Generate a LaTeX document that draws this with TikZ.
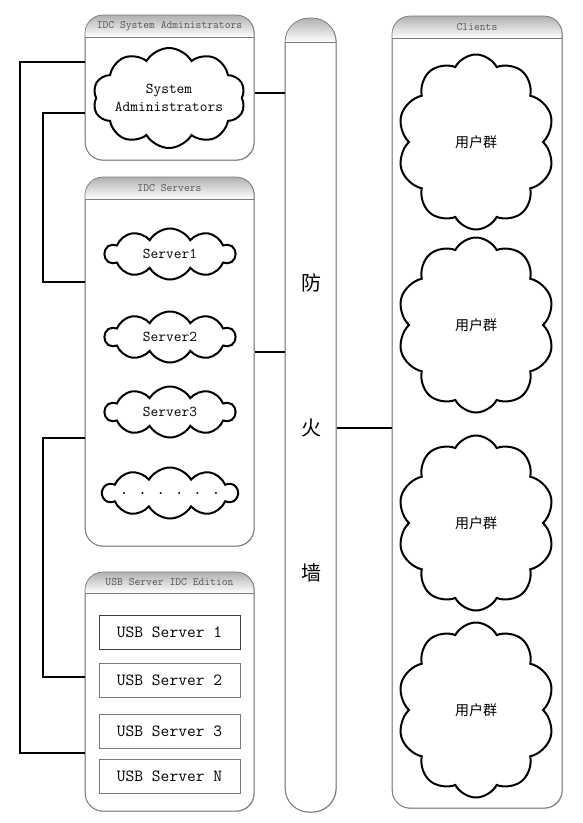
\documentclass[tikz,border=0pt]{standalone}
\usepackage{fontspec}
\newfontfamily\cjk{Noto Sans CJK SC}
\usetikzlibrary{shapes.symbols,calc}
\definecolor{frame}{HTML}{7A7A7A}
\definecolor{hdrtop}{HTML}{B0B0B0}
\definecolor{hdrtxt}{HTML}{555555}
\tikzset{
  container/.style={draw=frame, line width=0.7pt, rounded corners=18pt, anchor=north west, inner sep=0pt},
  hdrtext/.style={font=\ttfamily\fontsize{11.3}{13}\selectfont, text=hdrtxt},
  cloudnode/.style={cloud, draw=black, line width=2pt, cloud ignores aspect, inner sep=0pt, align=center},
  srvcloud/.style={cloudnode, cloud puffs=10, cloud puff arc=120, minimum width=130pt, minimum height=51pt, font=\ttfamily\fontsize{15}{18}\selectfont},
  clicloud/.style={cloudnode, cloud puffs=10, cloud puff arc=125, minimum width=157pt, minimum height=175pt, font=\cjk\fontsize{14}{16}\selectfont},
  usbbox/.style={draw=frame, line width=0.8pt, minimum width=141pt, minimum height=34pt, inner sep=0pt, font=\ttfamily\fontsize{17}{19}\selectfont},
  conn/.style={draw=black, line width=1.3pt},
  fwtext/.style={font=\cjk\fontsize{20}{22}\selectfont}
}
\begin{document}
\begin{tikzpicture}[x=1pt,y=-1pt]
\useasboundingbox (0,0) rectangle (583,823);
% containers
\node[container, minimum width=169pt, minimum height=145pt] (admbox) at (85,15) {};
\node[container, minimum width=169pt, minimum height=369pt] (srvbox) at (85,177) {};
\node[container, minimum width=169pt, minimum height=239pt] (usbbx) at (85,572) {};
\node[container, rounded corners=24pt, minimum width=51pt, minimum height=794pt] (fw) at (285,18) {};
\node[container, minimum width=170pt, minimum height=792pt] (cli) at (392,16) {};
% headers
\begin{scope}
  \clip[rounded corners=18pt] (85,15) rectangle (254,160);
  \shade[top color=hdrtop, bottom color=white] (85,15) rectangle (254,37);
\end{scope}
\draw[frame, line width=0.7pt] (85,37) -- (254,37);
\draw[container] (85,15) rectangle (254,160);
\node[hdrtext] (admhdr) at (169.5,26) {IDC System Administrators};

\begin{scope}
  \clip[rounded corners=18pt] (85,177) rectangle (254,546);
  \shade[top color=hdrtop, bottom color=white] (85,177) rectangle (254,199);
\end{scope}
\draw[frame, line width=0.7pt] (85,199) -- (254,199);
\draw[container] (85,177) rectangle (254,546);
\node[hdrtext] (srvhdr) at (169.5,188) {IDC Servers};

\begin{scope}
  \clip[rounded corners=18pt] (85,572) rectangle (254,811);
  \shade[top color=hdrtop, bottom color=white] (85,572) rectangle (254,593);
\end{scope}
\draw[frame, line width=0.7pt] (85,593) -- (254,593);
\draw[container] (85,572) rectangle (254,811);
\node[hdrtext] (usbhdr) at (169.5,582.5) {USB Server IDC Edition};

\begin{scope}
  \clip[rounded corners=24pt] (285,18) rectangle (336,812);
  \shade[top color=hdrtop, bottom color=white] (285,18) rectangle (336,42);
\end{scope}
\draw[frame, line width=0.7pt] (285,42) -- (336,42);
\draw[container, rounded corners=24pt] (285,18) rectangle (336,812);

\begin{scope}
  \clip[rounded corners=18pt] (392,16) rectangle (562,808);
  \shade[top color=hdrtop, bottom color=white] (392,16) rectangle (562,38);
\end{scope}
\draw[frame, line width=0.7pt] (392,38) -- (562,38);
\draw[container] (392,16) rectangle (562,808);
\node[hdrtext] (clihdr) at (477,27) {Clients};

% admin cloud
\node[cloudnode, cloud puffs=10, cloud puff arc=120, minimum width=142pt, minimum height=100pt, font=\ttfamily\fontsize{15}{18}\selectfont] (admcloud) at (169,98) {System\\Administrators};

% server clouds
\node[srvcloud] (s1) at (170,254) {Server1};
\node[srvcloud] (s2) at (170,337) {Server2};
\node[srvcloud] (s3) at (170,412) {Server3};
\node[srvcloud] (s4) at (170,493) {\textbf{. . . . . .}};

% usb boxes
\node[usbbox, draw=black!75, line width=1pt] (u1) at (169.5,632.5) {USB Server 1};
\node[usbbox] (u2) at (169.5,680) {USB Server 2};
\node[usbbox] (u3) at (169.5,731) {USB Server 3};
\node[usbbox] (u4) at (169.5,776) {USB Server N};

% firewall text
\node[fwtext] (f1) at (311,283) {防};
\node[fwtext] (f2) at (311,428) {火};
\node[fwtext] (f3) at (311,573) {墙};

% client clouds
\node[clicloud] (c1) at (476,142) {用户群};
\node[clicloud] (c2) at (476,325) {用户群};
\node[clicloud] (c3) at (476,523) {用户群};
\node[clicloud] (c4) at (476,710) {用户群};

% connectors
\coordinate (lo) at (20,753);
\coordinate (li1) at (43,282);
\coordinate (li2) at (43,677);
\draw[conn] ($(admbox.north east)+(0,78)$) -- ($(fw.north west)+(0,75)$);
\draw[conn] ($(srvbox.north east)+(0,175)$) -- ($(fw.north west)+(0,334)$);
\draw[conn] ($(fw.north east)+(0,410)$) -- ($(cli.north west)+(0,412)$);
\draw[conn] ($(admbox.north west)+(0,47)$) -| (lo) -- ($(usbbx.north west)+(0,181)$);
\draw[conn] ($(admbox.north west)+(0,98)$) -| (li1) -- ($(srvbox.north west)+(0,105)$);
\draw[conn] ($(srvbox.north west)+(0,261)$) -| (li2) -- ($(usbbx.north west)+(0,105)$);
\end{tikzpicture}
\end{document}
